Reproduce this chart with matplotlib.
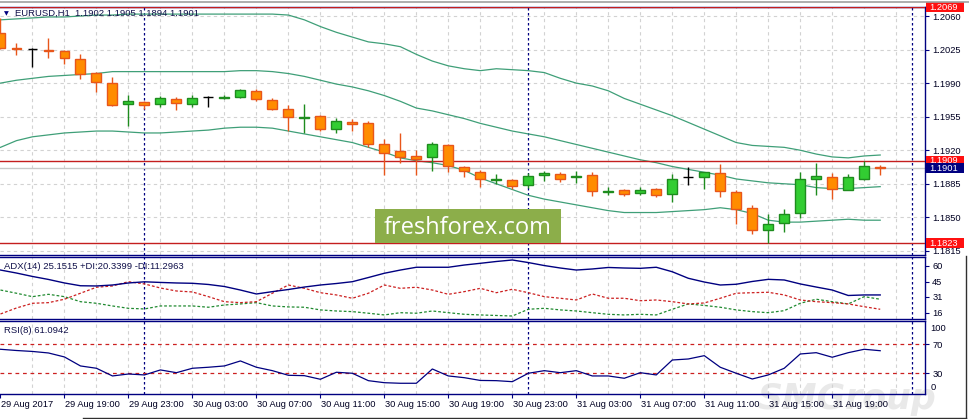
import matplotlib
matplotlib.use('Agg')
import matplotlib.pyplot as plt
from matplotlib.patches import Rectangle
from matplotlib.lines import Line2D
import matplotlib.transforms as mtransforms
import numpy as np

plt.rcParams['font.family'] = ['Liberation Sans', 'DejaVu Sans']

# ---------------- data (EURUSD H1, 29 Aug 15:00 .. 31 Aug 22:00) ----------------
opens = [1.2042, 1.2027, 1.2026, 1.2025, 1.2024, 1.2015, 1.2001, 1.1990, 1.1968, 1.1970,
         1.1968, 1.1973, 1.1968, 1.1975, 1.1974, 1.1975, 1.1982, 1.1972, 1.1963, 1.1954,
         1.1956, 1.1942, 1.1949, 1.1948, 1.1927, 1.1919, 1.1914, 1.1913, 1.1925, 1.1903,
         1.1897, 1.1889, 1.1889, 1.1884, 1.1894, 1.1895, 1.1892, 1.1894, 1.1876, 1.1878,
         1.1875, 1.1880, 1.1874, 1.1892, 1.1892, 1.1896, 1.1876, 1.1860, 1.1837, 1.1844,
         1.1854, 1.1890, 1.1892, 1.1879, 1.1890, 1.1902]
highs = [1.2058, 1.2032, 1.2027, 1.2037, 1.2025, 1.2020, 1.2002, 1.1996, 1.1978, 1.1971,
         1.1977, 1.1976, 1.1978, 1.1977, 1.1978, 1.1984, 1.1984, 1.1974, 1.1967, 1.1968,
         1.1957, 1.1954, 1.1953, 1.1950, 1.1932, 1.1938, 1.1920, 1.1929, 1.1927, 1.1904,
         1.1899, 1.1895, 1.1890, 1.1896, 1.1898, 1.1897, 1.1898, 1.1897, 1.1882, 1.1880,
         1.1882, 1.1881, 1.1895, 1.1903, 1.1897, 1.1906, 1.1878, 1.1863, 1.1853, 1.1859,
         1.1897, 1.1907, 1.1896, 1.1895, 1.1909, 1.1905]
lows = [1.2026, 1.2019, 1.2007, 1.2016, 1.2010, 1.1994, 1.1981, 1.1966, 1.1945, 1.1963,
        1.1965, 1.1962, 1.1965, 1.1965, 1.1973, 1.1974, 1.1971, 1.1962, 1.1940, 1.1938,
        1.1940, 1.1938, 1.1940, 1.1923, 1.1894, 1.1907, 1.1894, 1.1898, 1.1897, 1.1892,
        1.1882, 1.1885, 1.1880, 1.1881, 1.1888, 1.1887, 1.1886, 1.1872, 1.1873, 1.1872,
        1.1873, 1.1871, 1.1866, 1.1884, 1.1880, 1.1871, 1.1843, 1.1833, 1.1823, 1.1835,
        1.1849, 1.1873, 1.1869, 1.1878, 1.1889, 1.1894]
closes = [1.2027, 1.2026, 1.2026, 1.2023, 1.2016, 1.2000, 1.1991, 1.1967, 1.1971, 1.1967,
          1.1974, 1.1969, 1.1974, 1.1975, 1.1976, 1.1983, 1.1973, 1.1963, 1.1955, 1.1955,
          1.1942, 1.1950, 1.1947, 1.1926, 1.1917, 1.1913, 1.1911, 1.1926, 1.1904, 1.1898,
          1.1890, 1.1890, 1.1883, 1.1893, 1.1896, 1.1890, 1.1893, 1.1877, 1.1877, 1.1874,
          1.1879, 1.1873, 1.1890, 1.1892, 1.1897, 1.1877, 1.1859, 1.1837, 1.1843, 1.1853,
          1.1890, 1.1893, 1.1880, 1.1892, 1.1904, 1.1901]

bb_upper = [1.2056, 1.2057, 1.2058, 1.2059, 1.2059, 1.2060, 1.2061, 1.2061, 1.2062, 1.2062,
            1.2062, 1.2062, 1.2062, 1.2062, 1.2062, 1.2062, 1.2062, 1.2062, 1.2061, 1.2056,
            1.2049, 1.2043, 1.2038, 1.2033, 1.2031, 1.2028, 1.2020, 1.2013, 1.2008, 1.2005,
            1.2003, 1.2005, 1.2004, 1.2003, 1.2001, 1.1995, 1.1990, 1.1987, 1.1982, 1.1974,
            1.1968, 1.1962, 1.1956, 1.1949, 1.1942, 1.1935, 1.1928, 1.1925, 1.1924, 1.1923,
            1.1920, 1.1916, 1.1913, 1.1912, 1.1914, 1.1915]
bb_middle = [1.1990, 1.1993, 1.1995, 1.1997, 1.1998, 1.1999, 1.2000, 1.2002, 1.2002, 1.2002,
             1.2002, 1.2002, 1.2002, 1.2002, 1.2002, 1.2003, 1.2003, 1.2002, 1.2000, 1.1997,
             1.1993, 1.1989, 1.1986, 1.1982, 1.1977, 1.1971, 1.1964, 1.1961, 1.1957, 1.1953,
             1.1948, 1.1944, 1.1940, 1.1937, 1.1934, 1.1930, 1.1926, 1.1922, 1.1918, 1.1914,
             1.1910, 1.1907, 1.1903, 1.1900, 1.1897, 1.1894, 1.1890, 1.1888, 1.1886, 1.1885,
             1.1884, 1.1881, 1.1880, 1.1880, 1.1881, 1.1882]
bb_lower = [1.1923, 1.1930, 1.1934, 1.1936, 1.1938, 1.1939, 1.1940, 1.1940, 1.1939, 1.1938,
            1.1938, 1.1939, 1.1940, 1.1941, 1.1943, 1.1944, 1.1944, 1.1943, 1.1940, 1.1937,
            1.1934, 1.1931, 1.1928, 1.1923, 1.1918, 1.1912, 1.1909, 1.1907, 1.1904, 1.1899,
            1.1891, 1.1885, 1.1879, 1.1873, 1.1869, 1.1866, 1.1863, 1.1860, 1.1857, 1.1855,
            1.1855, 1.1855, 1.1856, 1.1857, 1.1858, 1.1860, 1.1858, 1.1854, 1.1847, 1.1845,
            1.1845, 1.1846, 1.1847, 1.1848, 1.1847, 1.1847]

adx = [55.9, 53.1, 49.9, 47.1, 43.8, 41.2, 41.0, 41.9, 43.8, 44.9,
       44.3, 43.8, 43.5, 42.4, 40.5, 37.2, 33.5, 35.7, 37.7, 40.0,
       41.9, 43.3, 45.0, 48.9, 52.9, 55.9, 58.5, 58.5, 58.5, 60.6,
       62.2, 63.9, 65.3, 62.9, 60.1, 57.8, 55.9, 56.9, 58.3, 57.8,
       57.5, 58.5, 54.3, 48.2, 44.7, 41.9, 42.6, 45.2, 47.2, 46.6,
       42.9, 40.0, 37.2, 32.1, 32.6, 32.6]
plus_di = [37.2, 34.2, 31.0, 33.2, 31.0, 26.3, 24.8, 22.3, 20.1, 19.5,
           22.3, 22.3, 22.3, 21.1, 23.2, 24.2, 25.4, 22.3, 21.4, 21.1,
           18.6, 17.6, 17.0, 15.5, 13.9, 16.0, 15.5, 17.6, 16.0, 14.5,
           13.9, 13.4, 12.9, 19.2, 20.1, 18.6, 17.6, 16.0, 14.5, 13.9,
           14.5, 13.9, 19.2, 24.2, 22.8, 21.1, 18.6, 17.0, 16.0, 17.9,
           24.8, 28.6, 26.3, 24.2, 31.0, 28.6]
minus_di = [14.8, 20.4, 24.8, 25.4, 28.6, 34.2, 39.8, 41.0, 45.0, 42.9,
            39.1, 36.3, 35.4, 31.0, 26.3, 25.4, 26.3, 34.2, 41.9, 38.8,
            34.7, 32.6, 29.5, 34.2, 41.9, 38.8, 39.8, 37.2, 33.2, 35.7,
            38.8, 34.7, 37.9, 34.7, 31.0, 29.5, 27.9, 33.5, 29.5, 29.5,
            27.2, 27.9, 26.3, 24.2, 25.1, 29.5, 34.2, 34.7, 35.1, 32.6,
            27.9, 26.3, 25.4, 24.2, 21.6, 19.2]
rsi = [63.1, 61.4, 60.1, 58.0, 52.5, 40.1, 36.9, 26.3, 29.0, 27.7,
       34.6, 30.8, 36.9, 38.3, 40.1, 47.0, 38.3, 33.6, 27.2, 26.7,
       21.7, 31.4, 30.0, 19.8, 17.0, 16.2, 16.2, 35.9, 26.3, 23.9,
       20.1, 19.8, 18.4, 30.0, 33.6, 30.8, 33.6, 26.3, 26.3, 23.1,
       30.8, 27.7, 48.3, 49.7, 54.3, 38.3, 30.0, 22.1, 27.7, 36.9,
       56.6, 58.4, 52.1, 58.4, 63.1, 61.1]

price_ticks = [1.2060, 1.2025, 1.1990, 1.1955, 1.1920, 1.1885, 1.1850, 1.1815]
red_levels = [1.2069, 1.1909, 1.1823]
bid_level = 1.1901
adx_ticks = [60, 45, 31, 16]
rsi_levels = [70, 30]
time_label_bars = [0, 4, 8, 12, 16, 20, 24, 28, 32, 36, 40, 44, 48, 52]
time_labels = ['29 Aug 2017', '29 Aug 19:00', '29 Aug 23:00', '30 Aug 03:00', '30 Aug 07:00',
               '30 Aug 11:00', '30 Aug 15:00', '30 Aug 19:00', '30 Aug 23:00', '31 Aug 03:00',
               '31 Aug 07:00', '31 Aug 11:00', '31 Aug 15:00', '31 Aug 19:00']
day_separators = [9, 33, 57]

# ---------------- styling ----------------
W, H = 969, 419
NAVY = '#000080'
TXT = '#000022'
GRID = '#d2d2d2'
BAND = '#3f9f78'
BULL_FILL, BULL_EDGE = '#32cd32', '#1e8c1e'
BEAR_FILL, BEAR_EDGE = '#ff8c00', '#e8561a'
LEVEL_RED = '#c41e1e'
FS = 6.7

fig = plt.figure(figsize=(W / 100, H / 100), dpi=100, facecolor='white')


def frect(x0, y0, x1, y1):
    return [x0 / W, 1 - y1 / H, (x1 - x0) / W, (y1 - y0) / H]


ax = fig.add_axes(frect(0, 7, 925, 255))
ax_adx = fig.add_axes(frect(0, 257, 925, 319))
ax_rsi = fig.add_axes(frect(0, 321, 925, 394))

x = np.arange(len(opens))

for a in (ax, ax_adx, ax_rsi):
    a.set_facecolor('none')
    a.set_xlim(-0.03, 57.8)
    a.spines['left'].set_visible(False)
    for s in ('top', 'bottom', 'right'):
        a.spines[s].set_color(NAVY)
        a.spines[s].set_linewidth(1.0)
    a.yaxis.tick_right()
    a.tick_params(axis='y', direction='out', length=3, width=0.8, color=NAVY,
                  pad=2.2, labelsize=FS, labelcolor=TXT)
    a.tick_params(axis='x', bottom=False, labelbottom=False)
    for k in range(2, 58, 2):
        a.axvline(k, color=GRID, lw=0.8, ls=(0, (3, 3)), zorder=0)
    for k in day_separators:
        a.axvline(k, color=NAVY, lw=0.9, ls=(0, (2, 2)), zorder=1)

# ---------------- main price panel ----------------
ax.set_ylim(1.18107, 1.20694)
ax.set_yticks(price_ticks)
ax.set_yticklabels([f'{p:.4f}' for p in price_ticks])
for p in price_ticks:
    ax.axhline(p, color=GRID, lw=0.8, ls=(0, (3, 3)), zorder=0)

ax.plot(x, bb_upper, color=BAND, lw=0.9, zorder=2)
ax.plot(x, bb_middle, color=BAND, lw=0.9, zorder=2)
ax.plot(x, bb_lower, color=BAND, lw=0.9, zorder=2)

ax.axhline(bid_level, color='#c8c8c8', lw=1.0, zorder=1.5)
for lv in red_levels:
    ax.axhline(lv, color=LEVEL_RED, lw=1.0, zorder=3)

for i in range(len(opens)):
    o, h, l, c = opens[i], highs[i], lows[i], closes[i]
    if c > o:
        fill, edge = BULL_FILL, BULL_EDGE
    elif c < o:
        fill, edge = BEAR_FILL, BEAR_EDGE
    else:
        fill, edge = 'black', 'black'
    ax.vlines(i, l, h, color=edge, lw=1.0, zorder=4)
    ax.bar(i, c - o, bottom=o, width=0.62, color=fill, edgecolor=edge,
           linewidth=1.0, zorder=5)

# price tags on the right axis
tr = mtransforms.blended_transform_factory(fig.transFigure, ax.transData)
ppx = (1.20694 - 1.18107) / 248.0
tags = [(red_levels[0], '#ff1010'), (red_levels[1], '#ff1010'),
        (bid_level, NAVY), (red_levels[2], '#ff1010')]
for price, fc in tags:
    ax.add_patch(Rectangle((926 / W, price - 5 * ppx), 38 / W, 10 * ppx, transform=tr,
                           facecolor=fc, edgecolor='none', clip_on=False, zorder=10))
    ax.text(929.5 / W, price, f'{price:.4f}', transform=tr, color='white', fontsize=FS,
            va='center', ha='left', clip_on=False, zorder=11)

# header
fig.text(6.5 / W, 1 - 13.5 / H, '\u25BC', fontsize=4.5, ha='center', va='center',
         color=NAVY, family='DejaVu Sans')
fig.text(15 / W, 1 - 13.7 / H,
         f'EURUSD,H1  {opens[-1]:.4f} {highs[-1]:.4f} {lows[-1]:.4f} {closes[-1]:.4f}',
         fontsize=6.8, color='#10104a', ha='left', va='center')

# ---------------- ADX panel ----------------
ax_adx.set_ylim(10.1, 68.1)
ax_adx.plot(x, adx, color=NAVY, lw=1.0, zorder=3)
ax_adx.plot(x, plus_di, color='#208a30', lw=0.9, ls=(0, (2.2, 1.6)), zorder=2)
ax_adx.plot(x, minus_di, color='#cc2020', lw=0.9, ls=(0, (2.2, 1.6)), zorder=2)
ax_adx.set_yticks(adx_ticks)
ax_adx.set_yticklabels([str(v) for v in adx_ticks])
ax_adx.text(4 / 925, 1 - 9.7 / 62, 'ADX(14) 25.1515 +DI:20.3399 -DI:11.2963',
            transform=ax_adx.transAxes, fontsize=6.8, color='#10104a', ha='left', va='center',
            zorder=6)

# ---------------- RSI panel ----------------
ax_rsi.set_ylim(1.4, 102.1)
for lv in rsi_levels:
    ax_rsi.axhline(lv, color='#cc2020', lw=0.9, ls=(0, (3, 3)), zorder=1)
ax_rsi.plot(x, rsi, color=NAVY, lw=0.9, zorder=3)
ax_rsi.set_yticks(rsi_levels)
ax_rsi.set_yticklabels([str(v) for v in rsi_levels])
tr_r = mtransforms.blended_transform_factory(fig.transFigure, ax_rsi.transData)
ax_rsi.text(930.5 / W, 92.0, '100', transform=tr_r, fontsize=FS, color=TXT,
            ha='left', va='center', clip_on=False)
ax_rsi.text(930.5 / W, 10.2, '0', transform=tr_r, fontsize=FS, color=TXT,
            ha='left', va='center', clip_on=False)
ax_rsi.text(4 / 925, 1 - 9.3 / 73, 'RSI(8) 61.0942', transform=ax_rsi.transAxes,
            fontsize=6.8, color='#10104a', ha='left', va='center', zorder=6)

ax_rsi.set_xticks(time_label_bars)
ax_rsi.tick_params(axis='x', bottom=True, labelbottom=False, direction='out', length=3,
                   width=0.8, color=NAVY)
tr_t = mtransforms.blended_transform_factory(ax_rsi.transData, fig.transFigure)
for k, lab in zip(time_label_bars, time_labels):
    ax_rsi.text(k + 0.02, 1 - 404.5 / H, lab, transform=tr_t, fontsize=FS, color=TXT,
                ha='left', va='center', clip_on=False)

# ---------------- watermarks & frame ----------------
fig.add_artist(Rectangle((375 / W, 1 - 243 / H), 186 / W, 34 / H, transform=fig.transFigure,
                         facecolor='#8cae4a', edgecolor='none', zorder=20))
fig.text(468 / W, 1 - 234 / H, 'freshforex.com', family='Open Sans', fontsize=17,
         color='white', ha='center', va='baseline', zorder=21)
fig.text(757 / W, 1 - 409 / H, 'SMGroup', family='DejaVu Sans', fontsize=25,
         style='italic', weight='bold', color='#e9e9e9', ha='left', va='baseline', zorder=-1)

fig.add_artist(Line2D([0, 1], [1 - 2 / H, 1 - 2 / H], color='#a0a0a0', lw=1.2,
                      transform=fig.transFigure))
fig.add_artist(Line2D([83 / W, 965.5 / W], [1 - 417.5 / H, 1 - 417.5 / H], color='#303030',
                      lw=1.0, transform=fig.transFigure))
fig.add_artist(Line2D([965.5 / W, 965.5 / W], [1 - 417.5 / H, 1 - 256 / H], color='#303030',
                      lw=1.0, transform=fig.transFigure))

fig.savefig('out.png', dpi=100, facecolor='white')
